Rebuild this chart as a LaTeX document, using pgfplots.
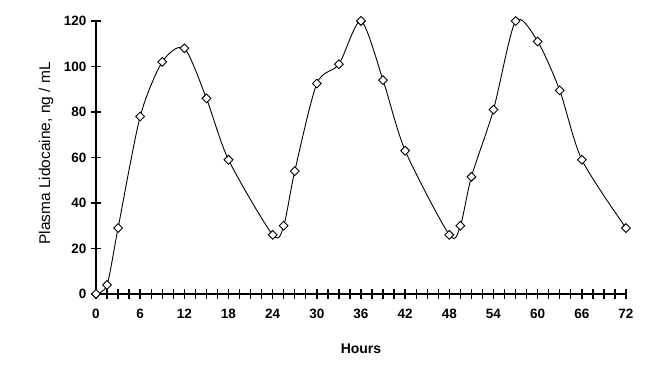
\documentclass[border=0pt]{standalone}
\usepackage{pgfplots}
\pgfplotsset{compat=1.18}
\usepackage{fontspec}
\setmainfont{Liberation Sans}
\begin{document}
\begin{tikzpicture}
\useasboundingbox (0,0) rectangle (648pt,366pt);
\begin{axis}[
  at={(96pt,72pt)}, anchor=south west,
  scale only axis, width=530pt, height=273pt,
  xmin=0, xmax=72, ymin=0, ymax=120,
  axis lines=left,
  axis line style={-, line width=1.8pt},
  xtick={0,6,...,72},
  minor xtick={0,1.5,...,72},
  ytick={0,20,...,120},
  tick align=center,
  major tick length=10pt, minor tick length=10pt,
  every tick/.style={black, line width=1.4pt},
  /pgf/number format/assume math mode=true,
  ticklabel style={font=\fontsize{13.5}{15}\selectfont\bfseries},
  xticklabel style={yshift=-7pt},
  yticklabel style={xshift=-1pt},
  xlabel={Hours},
  xlabel style={at={(axis description cs:0.5,-0.2015)}, anchor=center, font=\fontsize{14}{16}\selectfont\bfseries},
  ylabel={Plasma Lidocaine, ng / mL},
  ylabel style={at={(axis description cs:-0.0943,0.515)}, anchor=center, font=\fontsize{15.5}{17}\selectfont},
  clip=false,
]
\addplot[black, line width=0.9pt, smooth, tension=0.45, mark=square*, mark size=3.1pt,
  mark options={fill=white, line width=0.9pt, rotate=45}] coordinates {
(0,0) (1.5,4) (3,29) (6,78) (9,102) (12,108) (15,86) (18,59) (24,26) (25.5,30)
(27,54) (30,92.5) (33,101) (36,120) (39,94) (42,63) (48,26) (49.5,30) (51,51.5)
(54,81) (57,120) (60,111) (63,89.5) (66,59) (72,29)
};
\end{axis}
\end{tikzpicture}
\end{document}
